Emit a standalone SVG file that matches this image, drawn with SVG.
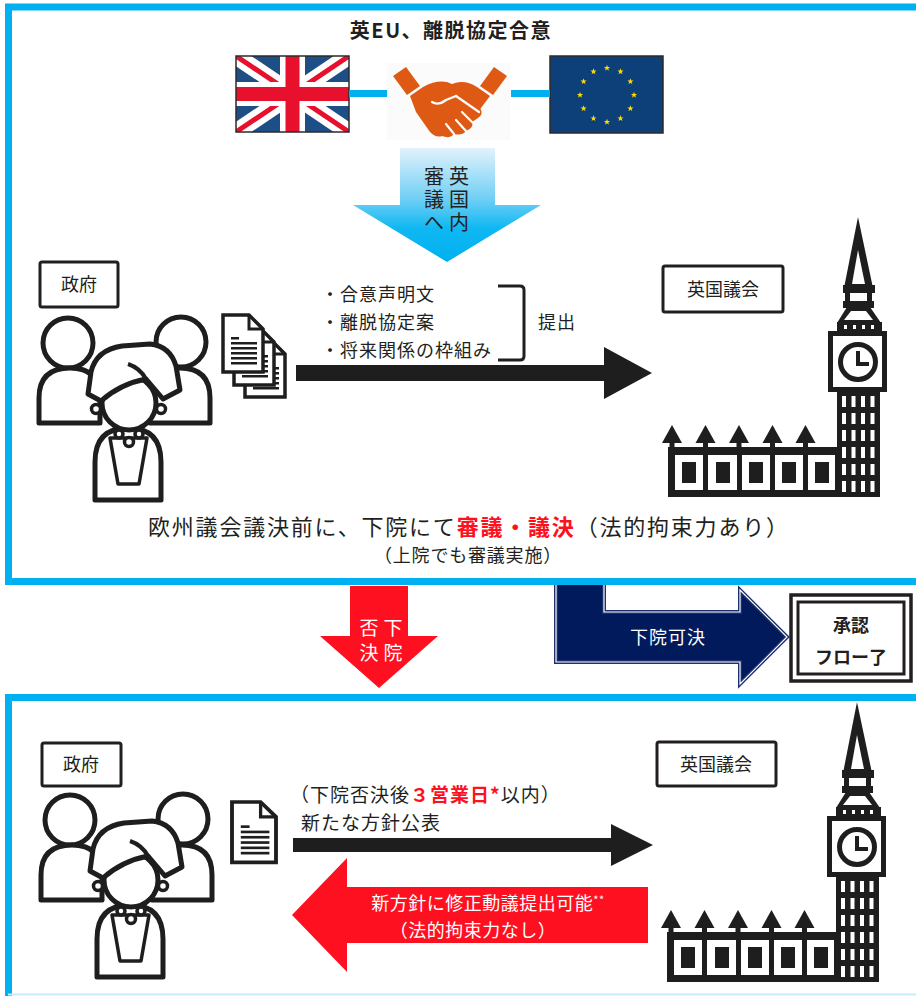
<svg xmlns="http://www.w3.org/2000/svg" xmlns:xlink="http://www.w3.org/1999/xlink" width="916" height="996" viewBox="0 0 916 996">
  <style>
    text { font-family: "Noto Sans CJK JP", "Noto Sans", sans-serif; fill: #231f20; }
    .t18 { font-size: 18px; }
    .t19 { font-size: 19px; letter-spacing: 1px; }
    .b { font-weight: bold; }
    .red { fill: #ff1020; }
    .wht { fill: #ffffff; }
    .vert { writing-mode: vertical-rl; }
    .frame { fill: none; stroke: #00b0f0; stroke-width: 7; }
    .lbl { fill: #ffffff; stroke: #231f20; stroke-width: 3; }
    .ink { fill: #1e1e1e; }
    .ol { fill: #ffffff; stroke: #1e1e1e; stroke-width: 5; stroke-linejoin: round; }
    .ol3 { fill: #ffffff; stroke: #1e1e1e; stroke-width: 3.5; stroke-linejoin: round; }
  </style>
  <defs>
    <linearGradient id="gBlue" x1="0" y1="0" x2="0" y2="1">
      <stop offset="0" stop-color="#e2f2fc"/>
      <stop offset="0.45" stop-color="#6fcff5"/>
      <stop offset="0.7" stop-color="#10b8f2"/>
      <stop offset="1" stop-color="#00b0f0"/>
    </linearGradient>
    <clipPath id="ukClip"><rect x="236" y="56" width="113" height="76"/></clipPath>
    <polygon id="star" points="0,-3.3 0.8,-1 3.1,-1 1.25,0.4 1.95,2.7 0,1.35 -1.95,2.7 -1.25,0.4 -3.1,-1 -0.8,-1" fill="#ffdd00"/>

    <!-- group of three people -->
    <g id="people">
      <circle class="ol" cx="68" cy="343" r="25"/>
      <circle class="ol" cx="181" cy="342" r="25"/>
      <path class="ol" d="M39,423 V398 Q39,368 70,368 Q100,368 100,398 V423 Z"/>
      <path class="ol" d="M150,423 V398 Q150,368 180,368 Q210,368 210,398 V423 Z"/>
      <!-- woman in front -->
      <path class="ol" d="M95,500 V462 Q95,428 128,428 Q161,428 161,462 V500 Z"/>
      <path class="ol3" d="M110,438 H147 L139,484 H118 Z"/>
      <circle class="ol" cx="129" cy="403" r="27"/>
      <path class="ol" d="M88,394 L91,372 Q96,350 122,346 L150,344 Q170,346 176,366 L180,390 L163,399 L146,379 Q120,384 101,401 Z"/>
      <path d="M146,379 Q140,368 128,364" fill="none" stroke="#1e1e1e" stroke-width="4"/>
      <circle class="ol3" cx="96" cy="409" r="4.5"/>
      <circle class="ol3" cx="161" cy="409" r="4.5"/>
      <circle class="ol3" cx="119" cy="434" r="4"/>
      <circle class="ol3" cx="129" cy="442" r="4.5"/>
      <circle class="ol3" cx="139" cy="434" r="4"/>
    </g>

    <!-- one page with folded corner -->
    <g id="page">
      <path d="M0,0 H26 L40,14 V57 H0 Z" fill="#ffffff" stroke="#1e1e1e" stroke-width="3.5" stroke-linejoin="miter"/>
      <path d="M26,0 V14 H40" fill="none" stroke="#1e1e1e" stroke-width="3"/>
      <rect x="8" y="22" width="8" height="2.5" class="ink"/>
      <rect x="8" y="27" width="26" height="2.5" class="ink"/>
      <rect x="8" y="32" width="26" height="2.5" class="ink"/>
      <rect x="8" y="37" width="26" height="2.5" class="ink"/>
      <rect x="8" y="42" width="26" height="2.5" class="ink"/>
      <rect x="8" y="47" width="26" height="2.5" class="ink"/>
    </g>

    <!-- clock tower with the hall -->
    <g id="parliament">
      <polygon points="858,217 844,288 873,288" class="ink"/>
      <polygon points="858,250 852,284 865,284" fill="#fff"/>
      <rect x="843" y="285" width="32" height="8" class="ink"/>
      <rect x="845" y="292" width="27" height="10" class="ink"/>
      <rect x="850" y="293" width="17" height="8" fill="#fff"/>
      <rect x="843" y="301" width="31" height="7" class="ink"/>
      <polygon points="847,307 870,307 881,323 837,323" class="ink"/>
      <polygon points="851,311 866,311 873,320 844,320" fill="#fff"/>
      <rect x="837" y="322" width="45" height="10" class="ink"/>
      <rect x="844" y="325" width="3" height="4" fill="#fff"/>
      <rect x="853" y="325" width="3" height="4" fill="#fff"/>
      <rect x="862" y="325" width="3" height="4" fill="#fff"/>
      <rect x="871" y="325" width="3" height="4" fill="#fff"/>
      <rect x="828" y="331" width="59" height="61" class="ink"/>
      <rect x="833" y="336" width="49" height="51" fill="#fff"/>
      <circle cx="858" cy="362" r="17.5" fill="#fff" stroke="#1e1e1e" stroke-width="5"/>
      <path d="M858,351 V364 H869" fill="none" stroke="#1e1e1e" stroke-width="4"/>
      <rect x="837" y="392" width="43" height="105" class="ink"/>
      <g fill="#fff">
        <rect x="842" y="396" width="4" height="11"/><rect x="851.5" y="396" width="4" height="11"/><rect x="861" y="396" width="4" height="11"/><rect x="870.5" y="396" width="4" height="11"/>
        <rect x="842" y="413" width="4" height="11"/><rect x="851.5" y="413" width="4" height="11"/><rect x="861" y="413" width="4" height="11"/><rect x="870.5" y="413" width="4" height="11"/>
        <rect x="842" y="430" width="4" height="11"/><rect x="851.5" y="430" width="4" height="11"/><rect x="861" y="430" width="4" height="11"/><rect x="870.5" y="430" width="4" height="11"/>
        <rect x="842" y="447" width="4" height="11"/><rect x="851.5" y="447" width="4" height="11"/><rect x="861" y="447" width="4" height="11"/><rect x="870.5" y="447" width="4" height="11"/>
        <rect x="842" y="464" width="4" height="11"/><rect x="851.5" y="464" width="4" height="11"/><rect x="861" y="464" width="4" height="11"/><rect x="870.5" y="464" width="4" height="11"/>
        <rect x="842" y="481" width="4" height="11"/><rect x="851.5" y="481" width="4" height="11"/><rect x="861" y="481" width="4" height="11"/><rect x="870.5" y="481" width="4" height="11"/>
      </g>
      <!-- hall -->
      <rect x="668" y="447" width="170" height="50" class="ink"/>
      <g fill="#fff">
        <rect x="675" y="455" width="28" height="35"/>
        <rect x="708" y="455" width="29" height="35"/>
        <rect x="742" y="455" width="28" height="35"/>
        <rect x="775" y="455" width="28" height="35"/>
        <rect x="808" y="455" width="27" height="35"/>
      </g>
      <g class="ink">
        <rect x="682" y="462" width="14" height="21"/>
        <rect x="716" y="462" width="14" height="21"/>
        <rect x="749" y="462" width="14" height="21"/>
        <rect x="782" y="462" width="14" height="21"/>
        <rect x="815" y="462" width="14" height="21"/>
      </g>
      <g class="ink">
        <rect x="669.5" y="440" width="5" height="8"/><polygon points="672,425 662,443 682,443"/>
        <rect x="703" y="440" width="5" height="8"/><polygon points="705.5,425 695.5,443 715.5,443"/>
        <rect x="736.5" y="440" width="5" height="8"/><polygon points="739,425 729,443 749,443"/>
        <rect x="770" y="440" width="5" height="8"/><polygon points="772.5,425 762.5,443 782.5,443"/>
        <rect x="803" y="440" width="5" height="8"/><polygon points="805.5,425 795.5,443 815.5,443"/>
      </g>
    </g>
  </defs>

  <rect width="916" height="996" fill="#ffffff"/>

  <!-- ===== upper panel ===== -->
  <text x="451" y="38" text-anchor="middle" class="b" font-size="20" letter-spacing="1.5">英EU、離脱協定合意</text>

  <g id="uk-flag">
    <g clip-path="url(#ukClip)">
      <rect x="236" y="56" width="113" height="76" fill="#1d4f86"/>
      <path d="M236,56 L349,132 M349,56 L236,132" stroke="#ffffff" stroke-width="17"/>
      <path d="M236,56 L349,132 M349,56 L236,132" stroke="#e8112d" stroke-width="5"/>
      <rect x="236" y="82" width="113" height="24" fill="#ffffff"/>
      <rect x="280" y="56" width="25" height="76" fill="#ffffff"/>
      <rect x="236" y="87" width="113" height="14" fill="#e8112d"/>
      <rect x="285.5" y="56" width="14" height="76" fill="#e8112d"/>
    </g>
    <rect x="236" y="56" width="113" height="76" fill="none" stroke="#2b2b2b" stroke-width="1.5"/>
  </g>

  <g id="handshake">
    <rect x="387" y="63" width="123" height="77" fill="#fbfbfb"/>
    <g fill="#de5a14">
      <polygon points="393,76 406,67 420,86 407,95"/>
      <polygon points="507,76 494,67 480,86 493,95"/>
      <path d="M410,96 L423,87 Q440,78 452,84 L470,98 L480,108 Q484,114 478,118 L472,122 Q474,128 466,131 Q462,136 454,134 Q450,139 442,136 Q436,138 430,132 L416,112 Z"/>
      <path d="M490,96 L477,87 Q466,80 455,83 L436,90 Q428,96 432,102 Q438,106 446,100 L456,96 L478,112 Z"/>
    </g>
    <g fill="none" stroke="#fbfbfb" stroke-width="2.2" stroke-linecap="round">
      <path d="M432,102 Q438,106 446,100 L456,96"/>
      <path d="M456,96 L479,112"/>
      <path d="M466,131 L456,120"/>
      <path d="M454,134 L446,124"/>
      <path d="M472,122 L462,112"/>
    </g>
  </g>

  <g id="eu-flag">
    <rect x="550" y="56" width="113" height="77" fill="#0d3f78" stroke="#2b2b2b" stroke-width="1.5"/>
    <use xlink:href="#star" x="607" y="68"/>
    <use xlink:href="#star" x="620.5" y="71.6"/>
    <use xlink:href="#star" x="630.4" y="81.5"/>
    <use xlink:href="#star" x="634" y="95"/>
    <use xlink:href="#star" x="630.4" y="108.5"/>
    <use xlink:href="#star" x="620.5" y="118.4"/>
    <use xlink:href="#star" x="607" y="122"/>
    <use xlink:href="#star" x="593.5" y="118.4"/>
    <use xlink:href="#star" x="583.6" y="108.5"/>
    <use xlink:href="#star" x="580" y="95"/>
    <use xlink:href="#star" x="583.6" y="81.5"/>
    <use xlink:href="#star" x="593.5" y="71.6"/>
  </g>

  <g id="to-parliament-arrow">
    <path d="M400,148 H495 V205 H541 L447,262 L353,205 H400 Z" fill="url(#gBlue)"/>
    <text x="459" y="166" class="vert" font-size="20" letter-spacing="3" fill="#2b2b2b">英国内</text>
    <text x="434" y="166" class="vert" font-size="20" letter-spacing="3" fill="#2b2b2b">審議へ</text>
  </g>

  <g id="government-1">
    <rect x="40" y="262" width="78" height="45" rx="2" class="lbl"/>
    <text x="79" y="291" text-anchor="middle" class="t18">政府</text>
    <use xlink:href="#people"/>
  </g>

  <g id="documents-1">
    <use xlink:href="#page" x="245" y="340"/>
    <use xlink:href="#page" x="234" y="328"/>
    <use xlink:href="#page" x="223" y="315"/>
  </g>

  <g id="parliament-1">
    <rect x="663" y="266" width="120" height="46" rx="2" class="lbl"/>
    <text x="723" y="296" text-anchor="middle" class="t18">英国議会</text>
    <use xlink:href="#parliament"/>
  </g>

  <g id="submission-list">
    <text x="321" y="301" class="t18" letter-spacing="1">・合意声明文</text>
    <text x="321" y="329" class="t18" letter-spacing="1">・離脱協定案</text>
    <text x="321" y="357" class="t18" letter-spacing="1">・将来関係の枠組み</text>
    <path d="M498,286 H520 Q524,286 524,290 V356 Q524,360 520,360 H498" fill="none" stroke="#231f20" stroke-width="3"/>
    <text x="538" y="329" class="t18" letter-spacing="1">提出</text>
  </g>

  <g id="connectors">
    <path d="M296,365 H604 V347 L652,373 L604,399 V381 H296 Z" class="ink"/>
    <path d="M293,838 H611 V824 L653,845 L611,866 V852 H293 Z" class="ink"/>
    <line x1="349" y1="93.5" x2="387" y2="93.5" stroke="#00b0f0" stroke-width="7"/>
    <line x1="511" y1="93.5" x2="550" y2="93.5" stroke="#00b0f0" stroke-width="7"/>
  </g>

  <text x="148" y="535" font-size="22" textLength="640" lengthAdjust="spacing">欧州議会議決前に、下院にて<tspan class="red b">審議・議決</tspan>（法的拘束力あり）</text>
  <text x="468" y="562" text-anchor="middle" class="t18" letter-spacing="0.8">（上院でも審議実施）</text>

  <!-- ===== between the panels ===== -->
  <g id="rejected-arrow">
    <path d="M350,586 H408 V636 H438 L379,688 L320,636 H350 Z" fill="#ff1020"/>
    <text x="393" y="618" class="vert wht" font-size="19" letter-spacing="6">下院</text>
    <text x="369" y="618" class="vert wht" font-size="19" letter-spacing="6">否決</text>
  </g>

  <g id="approved-arrow">
    <path d="M556,583 H604 V612 H740 V590 L787,637 L740,684 V662 H556 Z" fill="#001a5c" stroke="#1c2f6e" stroke-width="4" stroke-linejoin="miter"/>
    <path d="M556,583 H604 V612 H740 V590 L787,637 L740,684 V662 H556 Z" fill="none" stroke="#ffffff" stroke-width="1.2" stroke-linejoin="miter"/>
    <text x="668" y="644" text-anchor="middle" class="t18 wht" letter-spacing="1">下院可決</text>
  </g>

  <g id="approval-end">
    <rect x="791" y="595" width="120" height="86" fill="#ffffff" stroke="#231f20" stroke-width="3.5"/>
    <rect x="798" y="602" width="106" height="72" fill="none" stroke="#231f20" stroke-width="3"/>
    <text x="851" y="632" text-anchor="middle" class="t18 b">承認</text>
    <text x="851" y="664" text-anchor="middle" class="t18 b">フロー了</text>
  </g>

  <!-- panel borders -->
  <path class="frame" d="M920,7 H8.5 V581.5 H920"/>
  <path class="frame" d="M920,697.5 H8.5 V1000"/>
  <line x1="8" y1="994.5" x2="916" y2="994.5" stroke="#c8ecfa" stroke-width="2"/>

  <!-- ===== lower panel ===== -->
  <g id="government-2">
    <rect x="42" y="743" width="79" height="43" rx="2" class="lbl"/>
    <text x="81" y="771" text-anchor="middle" class="t18">政府</text>
    <use xlink:href="#people" transform="translate(2,477)"/>
  </g>

  <g id="document-2">
    <use xlink:href="#page" transform="translate(232,802) scale(1.1,1.06)"/>
  </g>

  <g id="parliament-2">
    <rect x="657" y="742" width="119" height="44" rx="2" class="lbl"/>
    <text x="716" y="771" text-anchor="middle" class="t18">英国議会</text>
    <use xlink:href="#parliament" transform="translate(-1,485)"/>
  </g>

  <text x="290" y="802" class="t19">（下院否決後<tspan class="red b">３営業日*</tspan>以内）</text>
  <text x="301" y="830" class="t19">新たな方針公表</text>

  <g id="amendment-arrow">
    <path d="M648,887 H347 V858 L292,915 L347,972 V943 H648 Z" fill="#ff1020"/>
    <text x="488" y="910" text-anchor="middle" class="t18 wht" letter-spacing="0.5">新方針に修正動議提出可能<tspan font-size="11" dy="-6">**</tspan></text>
    <text x="473" y="937" text-anchor="middle" class="t18 wht" letter-spacing="0.5">（法的拘束力なし）</text>
  </g>
</svg>
